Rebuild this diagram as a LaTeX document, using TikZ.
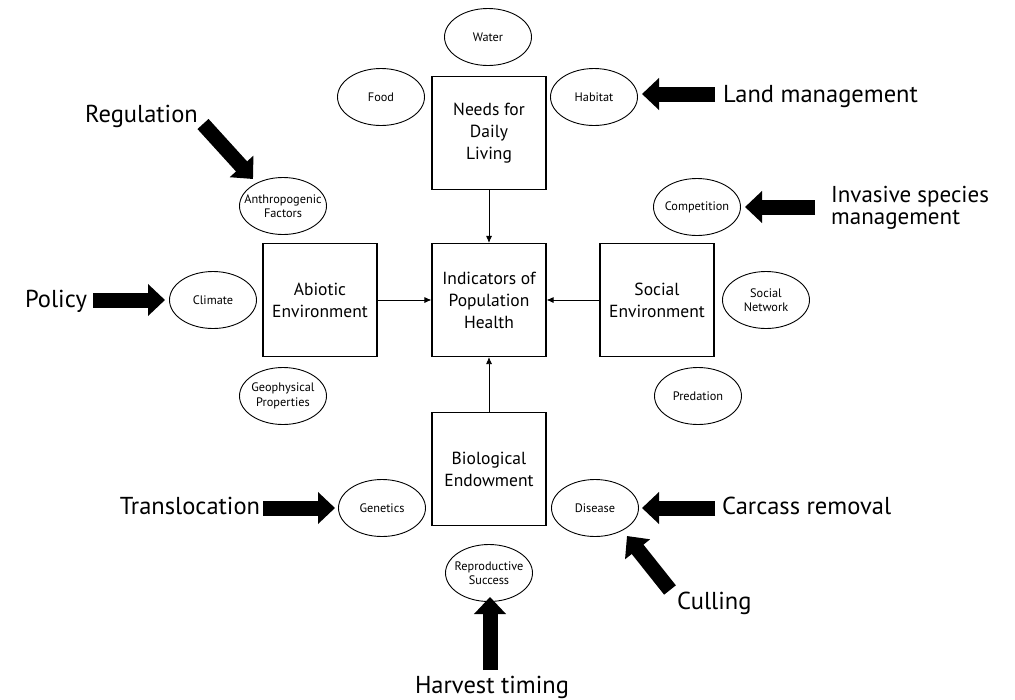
\documentclass[tikz,border=0pt]{standalone}
\usepackage{fontspec}
\setmainfont{PT Sans}
\usetikzlibrary{arrows.meta,shapes.geometric}
\tikzset{
  box/.style={draw, line width=1.1pt, minimum width=114pt, minimum height=113pt, inner sep=0pt, align=center, font=\fontsize{17.5}{22}\selectfont},
  oval/.style={draw, ellipse, line width=0.9pt, minimum width=87pt, minimum height=57pt, inner xsep=-14pt, inner ysep=-6pt, align=center, font=\fontsize{12.3}{14.5}\selectfont},
  lbl/.style={inner sep=0pt, font=\fontsize{24.5}{22}\selectfont},
  link/.style={-{Latex[length=7pt,width=6pt]}, line width=0.8pt},
  fat/.style={line width=15pt, -{Triangle[length=17pt,width=31pt]}}
}
\begin{document}
\begin{tikzpicture}[x=1pt,y=-1pt]
\useasboundingbox (0,0) rectangle (1015,699);
% boxes
\node[box] (needs) at (489,133) {Needs for\\Daily\\Living};
\node[box] (ind) at (489,300) {Indicators of\\Population\\Health};
\node[box] (abio) at (320,300) {Abiotic\\Environment};
\node[box] (soc) at (657,300) {Social\\Environment};
\node[box] (bio) at (489,469) {Biological\\Endowment};
% connectors
\draw[link] (needs) -- (ind);
\draw[link] (abio) -- (ind);
\draw[link] (soc) -- (ind);
\draw[link] (bio) -- (ind);
% ellipses
\node[oval] (water) at (488,37) {Water};
\node[oval] (food) at (381,97) {Food};
\node[oval] (habitat) at (594,97) {Habitat};
\node[oval] (anthro) at (283,206) {Anthropogenic\\Factors};
\node[oval] (climate) at (213,300) {Climate};
\node[oval] (geo) at (283,396) {Geophysical\\Properties};
\node[oval] (comp) at (697,207) {Competition};
\node[oval] (socnet) at (766,300) {Social\\Network};
\node[oval] (pred) at (698,396) {Predation};
\node[oval] (gen) at (382,508) {Genetics};
\node[oval] (dis) at (595,508) {Disease};
\node[oval] (repro) at (489,573) {Reproductive\\Success};
% labels
\node[lbl, anchor=base] (reg) at (141.5,122) {Regulation};
\node[lbl, anchor=base west] (land) at (723,102) {Land management};
\node[lbl, anchor=base west, align=left, font=\fontsize{23}{22}\selectfont] (inv) at (831,224) {Invasive species\\management};
\node[lbl, anchor=base] (pol) at (56,307) {Policy};
\node[lbl, anchor=base] (trans) at (190,514) {Translocation};
\node[lbl, anchor=base west] (carc) at (722,514) {Carcass removal};
\node[lbl, anchor=base west] (cull) at (677,609) {Culling};
\node[lbl, anchor=base] (harv) at (492,693) {Harvest timing};
% intervention arrows
\coordinate (regT) at (203,124); \coordinate (regH) at (253,179);
\coordinate (landT) at (715,94); \coordinate (landH) at (642,94);
\coordinate (invT) at (815,207); \coordinate (invH) at (745,207);
\coordinate (polT) at (93,300); \coordinate (polH) at (165,300);
\coordinate (transT) at (263,508); \coordinate (transH) at (335,508);
\coordinate (carcT) at (715,508); \coordinate (carcH) at (642,508);
\coordinate (cullT) at (670,590); \coordinate (cullH) at (627,536);
\coordinate (harvT) at (490,670); \coordinate (harvH) at (490,597);
\draw[fat] (regT) -- (regH);
\draw[fat] (landT) -- (landH);
\draw[fat] (invT) -- (invH);
\draw[fat] (polT) -- (polH);
\draw[fat] (transT) -- (transH);
\draw[fat] (carcT) -- (carcH);
\draw[fat] (cullT) -- (cullH);
\draw[fat] (harvT) -- (harvH);
\end{tikzpicture}
\end{document}
